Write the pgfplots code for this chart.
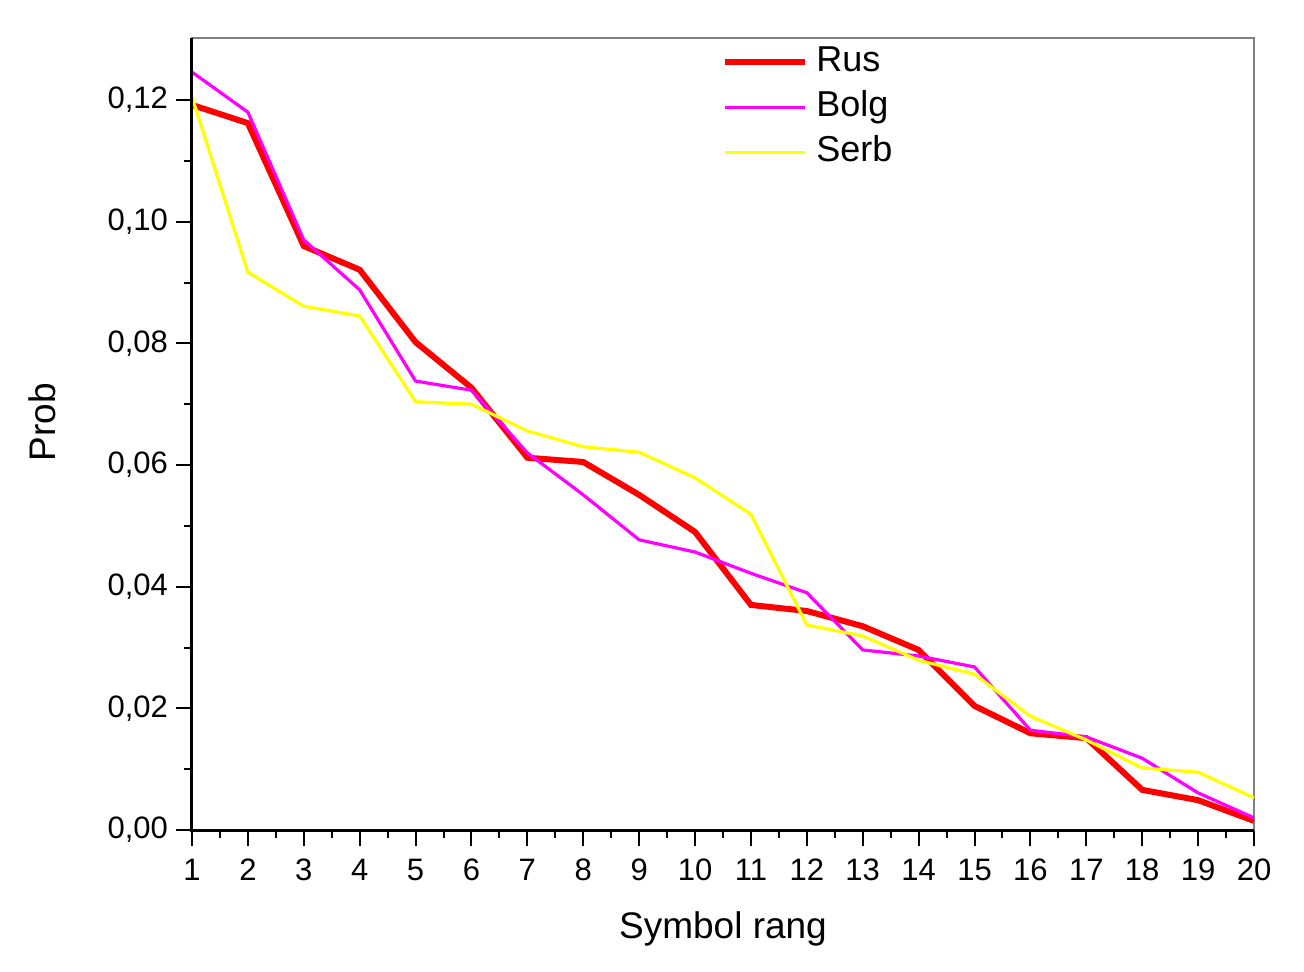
\documentclass[border=0pt]{standalone}
\usepackage{fontspec}
\setmainfont{Liberation Sans}
\usepackage{pgfplots}
\pgfplotsset{compat=1.18}
\definecolor{cRus}{RGB}{255,0,0}
\definecolor{cBolg}{RGB}{255,0,255}
\definecolor{cSerb}{RGB}{255,255,0}
\begin{document}
\begin{tikzpicture}
\useasboundingbox (-96bp,-71bp) rectangle (556bp,415bp);
\begin{axis}[
  at={(0,0)}, anchor=south west,
  scale only axis, width=531bp, height=396bp,
  xmin=1, xmax=20, ymin=0, ymax=0.1302,
  xtick={1,2,...,20},
  ytick={0,0.02,0.04,0.06,0.08,0.10,0.12},
  minor x tick num=1, minor y tick num=1,
  xtick pos=left, ytick pos=left,
  tick align=outside,
  major tick length=8bp, minor tick length=4bp,
  every tick/.style={black, line width=1bp},
  axis line style={draw=gray, line width=0.6bp},
  scaled y ticks=false,
  /pgf/number format/assume math mode=true,
  yticklabel style={/pgf/number format/fixed, /pgf/number format/fixed zerofill, /pgf/number format/precision=2, /pgf/number format/use comma, font=\fontsize{15.5bp}{18bp}\selectfont, xshift=-0.5bp},
  xticklabel style={font=\fontsize{15.5bp}{18bp}\selectfont, yshift=-3bp},
  xlabel={Symbol rang}, ylabel={Prob},
  every axis x label/.style={at={(rel axis cs:0.5,0)}, anchor=base, yshift=-54bp, font=\fontsize{18.5bp}{21bp}\selectfont},
  every axis y label/.style={at={(rel axis cs:0,0.5)}, rotate=90, anchor=center, yshift=75bp, xshift=6bp, font=\fontsize{18.5bp}{21bp}\selectfont},
  legend style={draw=none, fill=none, at={(rel axis cs:0,1)}, anchor=north west, xshift=265bp, yshift=-3.5bp, inner sep=0pt,
    nodes={inner sep=0pt, text height=13bp, text depth=4bp, font=\fontsize{18bp}{21bp}\selectfont},
    row sep=5.5bp},
  legend cell align=left,
  legend image code/.code={\draw[#1] (0bp,0bp) -- (40bp,0bp);},
  legend style={/tikz/every odd column/.append style={column sep=4bp}},
  after end axis/.code={\draw[black, line width=1.5bp] (rel axis cs:0,1) -- (rel axis cs:0,0) -- (rel axis cs:1,0);},
]
\addplot[cRus, line width=3bp, line join=miter] coordinates {
(1,0.1192) (2,0.1162) (3,0.0960) (4,0.0921) (5,0.0802) (6,0.0727) (7,0.0612) (8,0.0605) (9,0.0551) (10,0.0490)
(11,0.0370) (12,0.0360) (13,0.0335) (14,0.0296) (15,0.0204) (16,0.0159) (17,0.0151) (18,0.0066) (19,0.0049) (20,0.0015)};
\addlegendentry{Rus}
\addplot[cBolg, line width=1.6bp] coordinates {
(1,0.1246) (2,0.1180) (3,0.0970) (4,0.0888) (5,0.0738) (6,0.0723) (7,0.0620) (8,0.0551) (9,0.0477) (10,0.0457)
(11,0.0422) (12,0.0390) (13,0.0296) (14,0.0286) (15,0.0268) (16,0.0164) (17,0.0153) (18,0.0118) (19,0.0061) (20,0.0020)};
\addlegendentry{Bolg}
\addplot[cSerb, line width=1.6bp] coordinates {
(1,0.1205) (2,0.0917) (3,0.0861) (4,0.0845) (5,0.0704) (6,0.0700) (7,0.0656) (8,0.0630) (9,0.0621) (10,0.0579)
(11,0.0519) (12,0.0337) (13,0.0319) (14,0.0279) (15,0.0256) (16,0.0187) (17,0.0148) (18,0.0102) (19,0.0095) (20,0.0053)};
\addlegendentry{Serb}
\end{axis}
\end{tikzpicture}
\end{document}
